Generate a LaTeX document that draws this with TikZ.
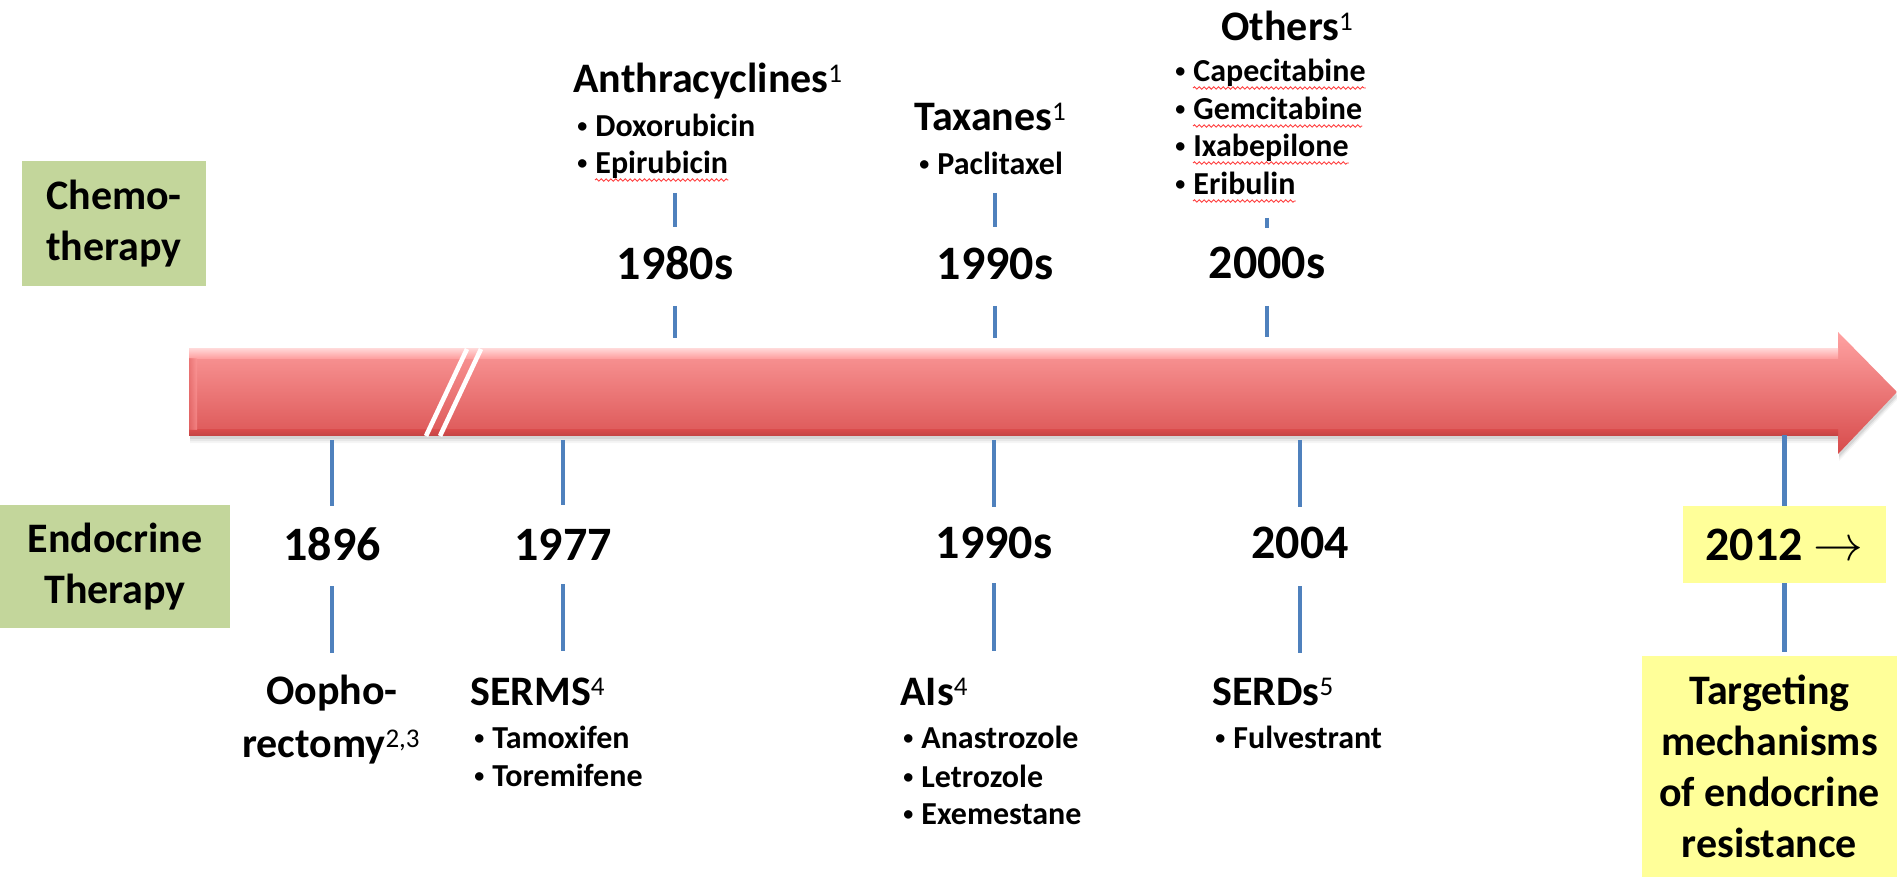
\documentclass[tikz,border=0pt]{standalone}
\usepackage{fontspec}
\setmainfont{Carlito}
\usetikzlibrary{calc,decorations.pathmorphing}
\definecolor{tickblue}{RGB}{79,129,189}
\definecolor{gfill}{RGB}{195,214,155}
\definecolor{yfill}{RGB}{255,255,153}
\definecolor{arrT}{RGB}{255,162,162}
\definecolor{arrT2}{RGB}{254,155,155}
\definecolor{arrH}{RGB}{255,212,212}
\definecolor{arrM}{RGB}{248,135,135}
\definecolor{arrB}{RGB}{215,75,75}
\definecolor{arrD}{RGB}{195,68,68}
\newcommand\bul{\llap{\raisebox{2pt}{\fontsize{10}{10}\selectfont\textbullet}\hspace{4pt}}}
\newcommand\sus[1]{\raisebox{5pt}{\fontsize{13.5}{13.5}\selectfont\mdseries #1}}
\tikzset{
  tickln/.style={draw=tickblue, line width=2.2pt},
  hdr/.style={inner sep=0pt, font=\fontsize{21}{25.5}\selectfont\bfseries},
  yr/.style={inner sep=0pt, font=\fontsize{24}{28}\selectfont\bfseries},
  itm/.style={inner sep=0pt, font=\fontsize{16}{19}\selectfont\bfseries},
  gbox/.style={fill=gfill, inner sep=0pt, align=center, font=\fontsize{21}{25.5}\selectfont\bfseries},
  ybox/.style={fill=yfill, inner sep=0pt, align=center},
  wavy/.style={draw=red!75!white, line width=0.45pt, decorate, decoration={snake, amplitude=0.6pt, segment length=2.4pt}},
  slash/.style={draw=white, line width=2.3pt}
}
\begin{document}
\begin{tikzpicture}[x=0.5pt,y=-0.5pt]
\useasboundingbox (0,0) rectangle (1897,877);

% ---- big timeline arrow ----
\foreach \dd/\op in {7/0.04,5/0.06,3/0.08} {
  \fill[black,opacity=\op,shift={(1,\dd)}] (189,349) -- (1838,349) -- (1838,332) -- (1897,392) -- (1838,454) -- (1838,436) -- (189,436) -- cycle;
}
\shade[top color=arrT, middle color=arrM, bottom color=arrB]
  (189,349) -- (1838,349) -- (1838,332) -- (1897,392) -- (1838,454) -- (1838,436) -- (189,436) -- cycle;
\shade[top color=arrH, bottom color=arrT2] (189,349) rectangle (1838,359);
\shade[top color=arrB, bottom color=arrD] (189,430) rectangle (1838,436);
\shade[left color=arrB!70!arrT, right color=arrT2, opacity=0.6] (189,359) rectangle (197,430);
\draw[slash] (467,349) -- (426,436);
\draw[slash] (481,349) -- (440,436);

% ---- row labels ----
\node[gbox, minimum width=92pt, minimum height=62.5pt] (chemo) at (114,223.5) {Chemo-\\therapy};
\node[gbox, minimum width=115pt, minimum height=61.5pt] (endo) at (115,566.5) {Endocrine\\Therapy};

% ---- chemotherapy (top) ----
\node[hdr, anchor=base west] (anth) at (573,93) {Anthracyclines\sus{1}};
\node[itm, anchor=base west] (dox) at (595,137) {\bul Doxorubicin};
\node[itm, anchor=base west] (epi) at (595,174) {\bul Epirubicin};
\node[yr, anchor=base] (y1980) at (675,280) {1980s};
\draw[tickln] (y1980.base) ++(0,-87) -- ++(0,34);
\draw[tickln] (y1980.base) ++(0,26) -- ++(0,32);

\node[hdr, anchor=base west] (tax) at (914,131) {Taxanes\sus{1}};
\node[itm, anchor=base west] (pac) at (937,175) {\bul Paclitaxel};
\node[yr, anchor=base] (y1990u) at (995,280) {1990s};
\draw[tickln] (y1990u.base) ++(0,-87) -- ++(0,34);
\draw[tickln] (y1990u.base) ++(0,26) -- ++(0,32);

\node[hdr, anchor=base west] (oth) at (1221,41) {Others\sus{1}};
\node[itm, anchor=base west] (cap) at (1193,82) {\bul Capecitabine};
\node[itm, anchor=base west] (gem) at (1193,120) {\bul Gemcitabine};
\node[itm, anchor=base west] (ixa) at (1193,157) {\bul Ixabepilone};
\node[itm, anchor=base west] (eri) at (1193,195) {\bul Eribulin};
\node[yr, anchor=base] (y2000) at (1267,279) {2000s};
\draw[tickln] (y2000.base) ++(0,-61) -- ++(0,10);
\draw[tickln] (y2000.base) ++(0,27) -- ++(0,31);

\foreach \w in {epi,cap,gem,ixa,eri} {
  \draw[wavy] ($(\w.base west)+(0,6)$) -- ($(\w.base east)+(0,6)$);
}

% ---- endocrine therapy (bottom) ----
\node[yr, anchor=base] (y1896) at (332,560) {1896};
\draw[tickln] (y1896.base) ++(0,-120) -- ++(0,66);
\draw[tickln] (y1896.base) ++(0,26) -- ++(0,67);
\node[hdr, anchor=base] (oopho) at (332,704) {Oopho-};
\node[hdr, anchor=base] (rect) at (331,757) {rectomy\sus{2,3}};

\node[yr, anchor=base] (y1977) at (563,560) {1977};
\draw[tickln] (y1977.base) ++(0,-120) -- ++(0,65);
\draw[tickln] (y1977.base) ++(0,24) -- ++(0,67);
\node[hdr, anchor=base west] (serms) at (470,705) {SERMS\sus{4}};
\node[itm, anchor=base west] (tam) at (492,748) {\bul Tamoxifen};
\node[itm, anchor=base west] (tor) at (492,786) {\bul Toremifene};

\node[yr, anchor=base] (y1990l) at (994,558) {1990s};
\draw[tickln] (y1990l.base) ++(0,-118) -- ++(0,67);
\draw[tickln] (y1990l.base) ++(0,25) -- ++(0,68);
\node[hdr, anchor=base west] (ais) at (900,705) {AIs\sus{4}};
\node[itm, anchor=base west] (ana) at (921,748) {\bul Anastrozole};
\node[itm, anchor=base west] (letz) at (921,787) {\bul Letrozole};
\node[itm, anchor=base west] (exe) at (921,824) {\bul Exemestane};

\node[yr, anchor=base] (y2004) at (1300,558) {2004};
\draw[tickln] (y2004.base) ++(0,-118) -- ++(0,67);
\draw[tickln] (y2004.base) ++(0,28) -- ++(0,67);
\node[hdr, anchor=base west] (serds) at (1212,705) {SERDs\sus{5}};
\node[itm, anchor=base west] (ful) at (1233,748) {\bul Fulvestrant};

\node[ybox, minimum width=101.5pt, minimum height=38.5pt, font=\fontsize{24}{28}\selectfont\bfseries] (t2012) at (1784.5,544.5) {2012 $\rightarrow$};
\node[ybox, minimum width=127.5pt, minimum height=110.5pt, font=\fontsize{21}{25.5}\selectfont\bfseries] (targ) at (1769.5,766.5) {Targeting\\mechanisms\\of endocrine\\resistance};
\draw[tickln] (t2012.north) -- ++(0,-71);
\draw[tickln] (t2012.south) -- ++(0,69);
\end{tikzpicture}
\end{document}
